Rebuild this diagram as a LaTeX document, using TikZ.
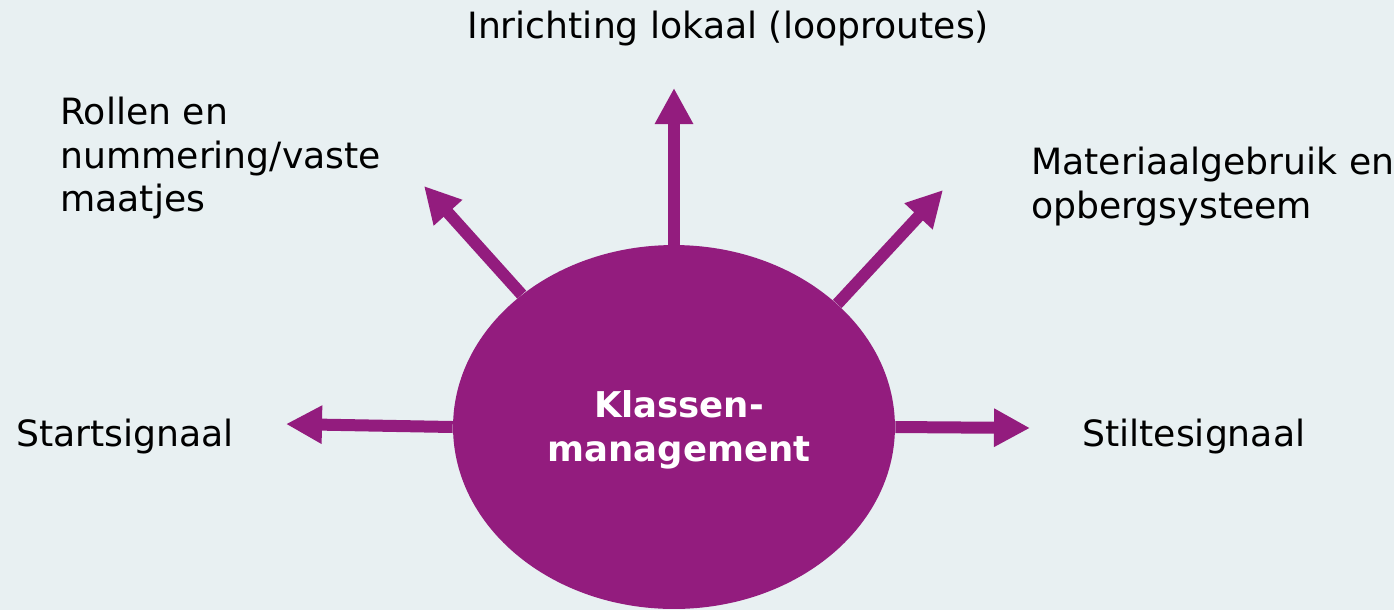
\documentclass[tikz,border=0pt]{standalone}
\usepackage{fontspec}
\setmainfont{DejaVu Sans}
\usetikzlibrary{shapes.geometric,arrows.meta}
\definecolor{bgc}{HTML}{E8F0F2}
\definecolor{purp}{HTML}{931C7E}
\tikzset{
  lbl/.style={anchor=base west, inner sep=0pt, font=\fontsize{20.6}{24.7}\selectfont, text=black, align=left},
  arr/.style={draw=purp, line width=0.24cm, -{Triangle[length=0.72cm,width=0.72cm]}},
}
\begin{document}
\begin{tikzpicture}[x=0.02cm,y=-0.02cm]
\fill[bgc] (0,0) rectangle (1394,610);
\useasboundingbox (0,0) rectangle (1394,610);
\node[ellipse, fill=purp, minimum width=8.84cm, minimum height=7.28cm, inner sep=0pt] (c) at (674,427) {};
\node[anchor=center, text=white, align=center, font=\bfseries\fontsize{20.2}{24.7}\selectfont] (ct) at (679,430) {Klassen-\\management};
\coordinate (tu) at (674,88);
\coordinate (tul) at (424,186);
\coordinate (tur) at (943,190);
\coordinate (tl) at (286,424);
\coordinate (tr) at (1030,428);
\draw[arr] (c.90) -- (tu);
\draw[arr] (c.139.5) -- (tul);
\draw[arr] (c.37.3) -- (tur);
\draw[arr] (c.180) -- (tl);
\draw[arr] (c.0) -- (tr);
\node[lbl] (t1) at (467,38) {Inrichting lokaal (looproutes)};
\node[lbl, anchor=north west] (t2) at (60,97) {Rollen en\\nummering/vaste\\maatjes};
\node[lbl, anchor=north west] (t3) at (1031,147) {Materiaalgebruik en\\opbergsysteem};
\node[lbl] (t4) at (16,446) {Startsignaal};
\node[lbl] (t5) at (1082,446) {Stiltesignaal};
\end{tikzpicture}
\end{document}
